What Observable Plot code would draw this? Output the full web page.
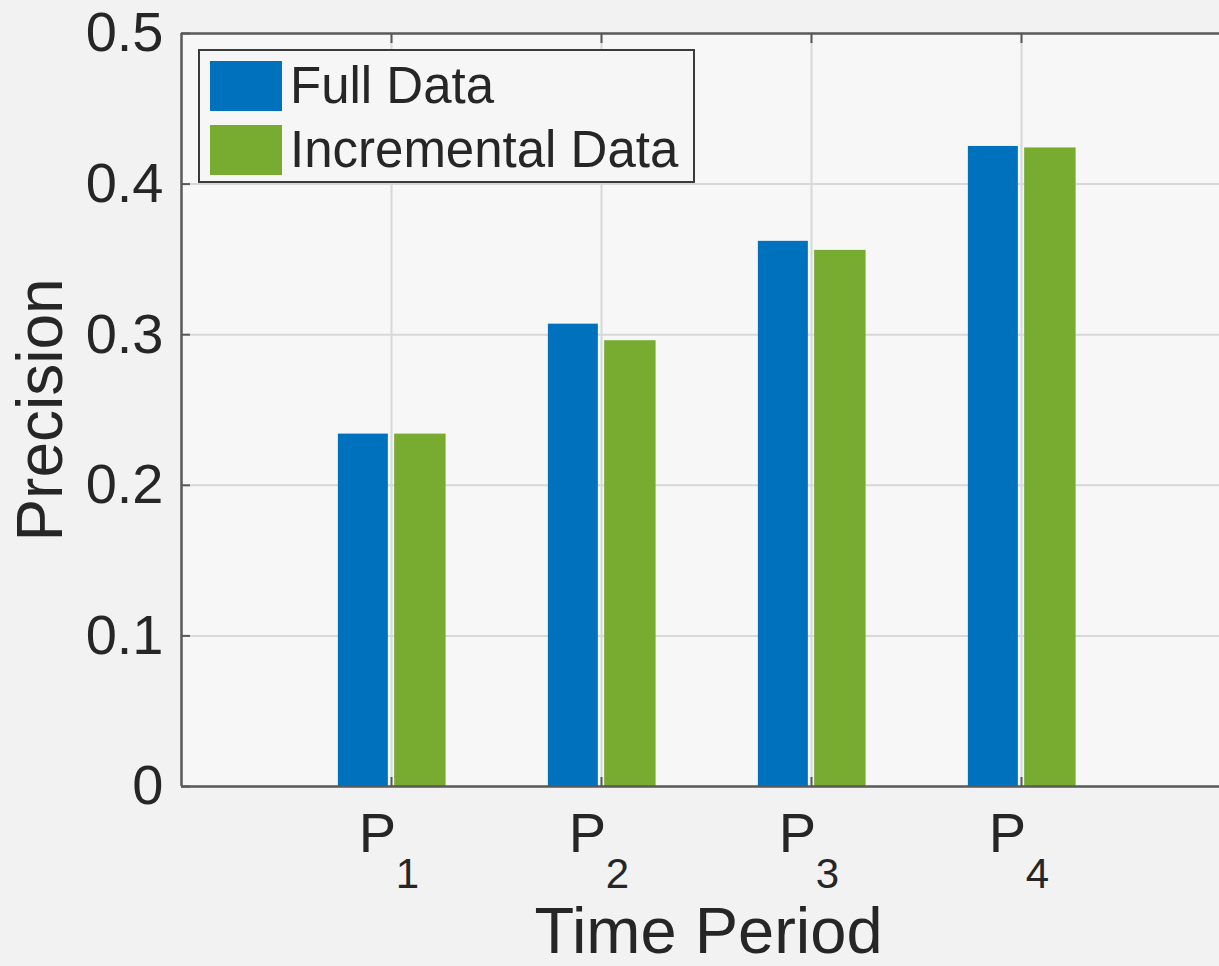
<!DOCTYPE html>
<html>
<head>
<meta charset="utf-8">
<script src="https://cdn.jsdelivr.net/npm/d3@7"></script>
<script src="https://cdn.jsdelivr.net/npm/@observablehq/plot@0.6"></script>
<style>
  html, body { margin: 0; padding: 0; background: #f2f2f2; overflow: hidden; }
  #wrap { position: relative; width: 1219px; height: 966px; font-family: "Liberation Sans", Arial, sans-serif; }
  #legend { position: absolute; left: 198px; top: 49px; width: 497px; height: 134px; box-sizing: border-box;
            border: 2px solid #3a3a3a; background: #f6f6f6; }
  .item { position: absolute; left: 10px; display: flex; align-items: center; }
  .sw { width: 72px; height: 50px; margin-right: 8px; }
  .lab { font-size: 51px; color: #262626; letter-spacing: 0px; line-height: 1; }
</style>
</head>
<body>
<div id="wrap"></div>
<script>
const periods = ["1", "2", "3", "4"];
const fullData = [0.234, 0.307, 0.362, 0.425];
const incrementalData = [0.234, 0.296, 0.356, 0.424];
const seriesNames = ["Full Data", "Incremental Data"];
const seriesColors = ["#0072BD", "#77AC30"];
const yTicks = [0, 0.1, 0.2, 0.3, 0.4, 0.5];

const rows = [];
periods.forEach((p, i) => {
  rows.push({ pos: i + 1, series: seriesNames[0], value: fullData[i] });
  rows.push({ pos: i + 1, series: seriesNames[1], value: incrementalData[i] });
});
const ticksX = periods.map((p, i) => ({ pos: i + 1, sub: p }));

const ink = "#262626";
const axisColor = "#595959";
const gridColor = "#d8d8d8";

const chart = Plot.plot({
  width: 1219,
  height: 966,
  marginLeft: 181,
  marginRight: 0,
  marginTop: 33,
  marginBottom: 180,
  style: { background: "transparent", fontFamily: "Liberation Sans, Arial, sans-serif", color: ink, overflow: "visible" },
  x: { type: "linear", domain: [0, 5], range: [181, 1231] },
  y: { domain: [0, 0.5], range: [786, 33] },
  color: { domain: seriesNames, range: seriesColors },
  marks: [
    Plot.rect([0], { x1: 0, x2: 5, y1: 0, y2: 0.5, fill: "#f7f7f7" }),
    Plot.gridY(yTicks.slice(1, -1), { stroke: gridColor, strokeOpacity: 1, strokeWidth: 2 }),
    Plot.gridX(periods.map((p, i) => i + 1), { stroke: gridColor, strokeOpacity: 1, strokeWidth: 2 }),
    Plot.rectY(rows, {
      x1: d => d.series === seriesNames[0] ? d.pos - 0.253 : d.pos + 0.015,
      x2: d => d.series === seriesNames[0] ? d.pos - 0.015 : d.pos + 0.26,
      y1: 0,
      y2: "value",
      fill: "series"
    }),
    Plot.axisY(yTicks, { anchor: "left", tickSize: -9, stroke: axisColor, strokeWidth: 2, text: null, label: null }),
    Plot.axisY(yTicks, { anchor: "left", tickSize: 0, tickPadding: 18, fontSize: 56, tickFormat: d => String(d), fill: ink, label: null }),
    Plot.axisX(periods.map((p, i) => i + 1), { anchor: "bottom", tickSize: -9, stroke: axisColor, strokeWidth: 2, text: null, label: null }),
    Plot.axisX(periods.map((p, i) => i + 1), { anchor: "top", tickSize: -9, stroke: axisColor, strokeWidth: 2, text: null, label: null }),
    Plot.ruleY([0, 0.5], { stroke: axisColor, strokeWidth: 2.5 }),
    Plot.ruleX([0], { stroke: axisColor, strokeWidth: 2.5 }),
    Plot.text(ticksX, { x: "pos", y: 0, text: () => "P", dx: -14, dy: 48, fontSize: 56, fill: ink, textAnchor: "middle" }),
    Plot.text(ticksX, { x: "pos", y: 0, text: "sub", dx: 16, dy: 88, fontSize: 42, fill: ink, textAnchor: "middle" }),
    Plot.text(["Time Period"], { x: 2.51, y: 0, dy: 146, fontSize: 65, fill: ink, textAnchor: "middle" }),
    Plot.text(["Precision"], { x: 0, y: 0.25, dx: -140, dy: 0, rotate: -90, fontSize: 64, fill: ink, textAnchor: "middle" })
  ]
});

const wrap = document.getElementById("wrap");
wrap.appendChild(chart);

const legend = document.createElement("div");
legend.id = "legend";
seriesNames.forEach((name, i) => {
  const item = document.createElement("div");
  item.className = "item";
  item.style.top = (i === 0 ? 9 : 73) + "px";
  const sw = document.createElement("div");
  sw.className = "sw";
  sw.style.background = seriesColors[i];
  const lab = document.createElement("span");
  lab.className = "lab";
  lab.textContent = name;
  item.appendChild(sw);
  item.appendChild(lab);
  legend.appendChild(item);
});
wrap.appendChild(legend);
</script>
</body>
</html>
